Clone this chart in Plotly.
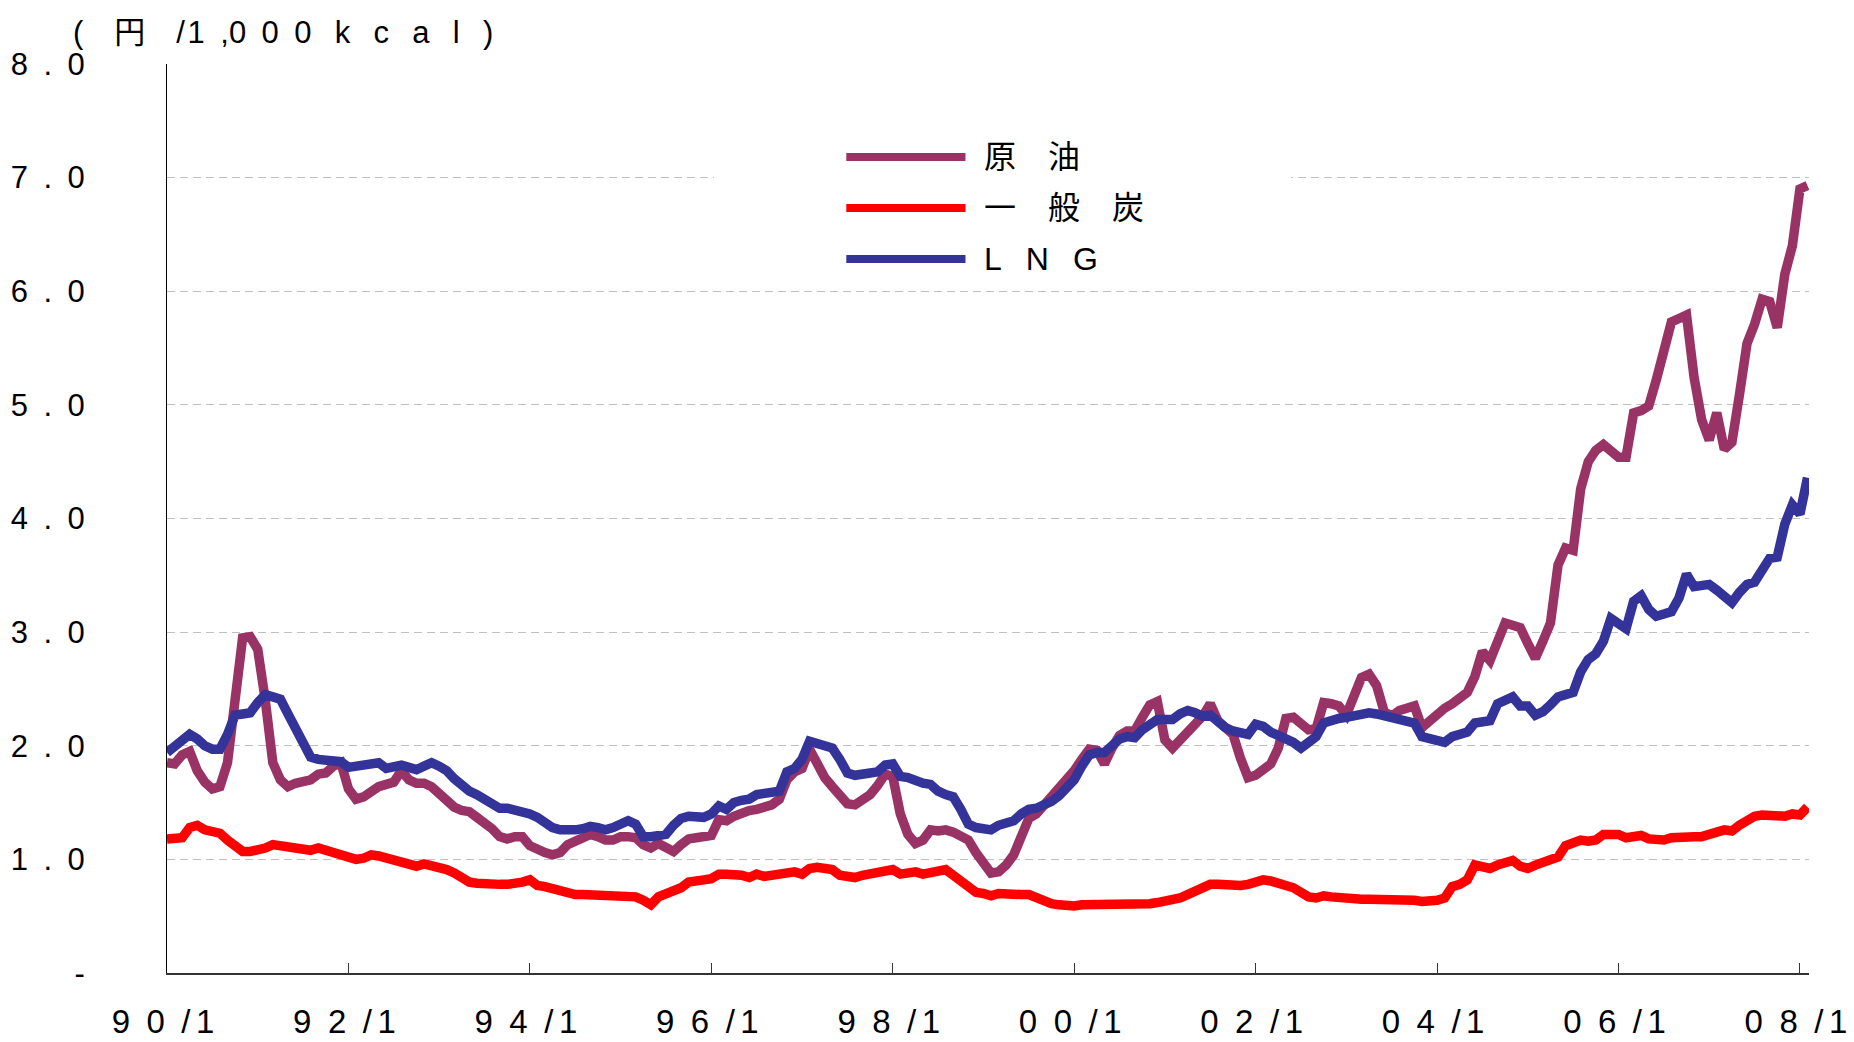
import plotly.graph_objects as go

# ---------------- data (monthly, 1990/1 .. 2008/2), yen per 1,000 kcal ----------------
crude = [
    1.85, 1.84, 1.92, 1.95, 1.78, 1.68, 1.62, 1.64, 1.85, 2.35, 2.95, 2.96,   # 1990
    2.85, 2.40, 1.85, 1.70, 1.64, 1.67, 1.69, 1.70, 1.75, 1.76, 1.82, 1.85,   # 1991
    1.62, 1.53, 1.55, 1.60, 1.64, 1.66, 1.68, 1.78, 1.70, 1.67, 1.67, 1.64,   # 1992
    1.58, 1.51, 1.46, 1.43, 1.42, 1.37, 1.33, 1.27, 1.20, 1.18, 1.20, 1.20,   # 1993
    1.12, 1.08, 1.06, 1.04, 1.06, 1.13, 1.16, 1.19, 1.22, 1.20, 1.17, 1.17,   # 1994
    1.20, 1.20, 1.19, 1.13, 1.10, 1.14, 1.10, 1.07, 1.13, 1.18, 1.19, 1.20,   # 1995
    1.21, 1.35, 1.34, 1.38, 1.41, 1.43, 1.44, 1.45, 1.48, 1.53, 1.70, 1.77,   # 1996
    1.80, 1.97, 1.82, 1.72, 1.64, 1.56, 1.49, 1.48, 1.52, 1.57, 1.65, 1.75,   # 1997
    1.73, 1.40, 1.22, 1.14, 1.17, 1.26, 1.25, 1.26, 1.24, 1.21, 1.17, 1.06,   # 1998
    0.95, 0.88, 0.89, 0.95, 1.04, 1.22, 1.36, 1.40, 1.47, 1.56, 1.63, 1.70,   # 1999
    1.78, 1.88, 1.97, 1.96, 1.84, 1.98, 2.09, 2.13, 2.13, 2.25, 2.36, 2.39,   # 2000
    2.05, 1.98, 2.05, 2.15, 2.21, 2.26, 2.37, 2.22, 2.16, 2.10, 1.89, 1.72,   # 2001
    1.74, 1.80, 1.84, 1.98, 2.24, 2.25, 2.20, 2.14, 2.15, 2.38, 2.37, 2.35,   # 2002
    2.27, 2.44, 2.60, 2.63, 2.53, 2.30, 2.26, 2.31, 2.33, 2.35, 2.16, 2.22,   # 2003
    2.28, 2.33, 2.37, 2.42, 2.47, 2.61, 2.83, 2.75, 2.90, 3.08, 3.06, 3.04,   # 2004
    2.90, 2.77, 2.92, 3.08, 3.59, 3.74, 3.72, 4.26, 4.50, 4.60, 4.65, 4.58,   # 2005
    4.54, 4.54, 4.93, 4.95, 4.99, 5.22, 5.50, 5.73, 5.76, 5.79, 5.24, 4.87,   # 2006
    4.69, 4.93, 4.61, 4.67, 5.09, 5.54, 5.71, 5.93, 5.91, 5.68, 6.15, 6.40,   # 2007
    6.90, 6.93,                                                               # 2008
]

coal = [
    1.18, 1.18, 1.19, 1.28, 1.30, 1.26, 1.24, 1.23, 1.17, 1.12, 1.07, 1.07,   # 1990
    1.08, 1.10, 1.13, 1.12, 1.10, 1.10, 1.08, 1.08, 1.10, 1.08, 1.04, 1.03,   # 1991
    1.01, 1.00, 1.01, 1.04, 1.03, 1.01, 0.99, 0.97, 0.95, 0.94, 0.96, 0.95,   # 1992
    0.93, 0.91, 0.88, 0.84, 0.80, 0.79, 0.78, 0.78, 0.78, 0.78, 0.78, 0.80,   # 1993
    0.82, 0.77, 0.76, 0.74, 0.73, 0.72, 0.69, 0.69, 0.69, 0.69, 0.69, 0.69,   # 1994
    0.69, 0.69, 0.67, 0.64, 0.60, 0.67, 0.69, 0.72, 0.75, 0.80, 0.82, 0.82,   # 1995
    0.83, 0.87, 0.87, 0.87, 0.86, 0.84, 0.87, 0.85, 0.86, 0.87, 0.88, 0.89,   # 1996
    0.87, 0.92, 0.93, 0.93, 0.91, 0.86, 0.84, 0.84, 0.86, 0.87, 0.87, 0.89,   # 1997
    0.91, 0.87, 0.88, 0.89, 0.87, 0.89, 0.90, 0.91, 0.86, 0.81, 0.75, 0.71,   # 1998
    0.70, 0.68, 0.70, 0.69, 0.69, 0.69, 0.69, 0.66, 0.63, 0.61, 0.60, 0.59,   # 1999
    0.59, 0.60, 0.60, 0.60, 0.60, 0.60, 0.59, 0.60, 0.59, 0.60, 0.61, 0.62,   # 2000
    0.63, 0.65, 0.66, 0.69, 0.72, 0.74, 0.78, 0.78, 0.77, 0.76, 0.77, 0.78,   # 2001
    0.80, 0.82, 0.81, 0.80, 0.77, 0.75, 0.70, 0.67, 0.66, 0.68, 0.67, 0.66,   # 2002
    0.66, 0.66, 0.65, 0.65, 0.65, 0.65, 0.64, 0.66, 0.65, 0.64, 0.63, 0.63,   # 2003
    0.64, 0.66, 0.76, 0.78, 0.82, 0.95, 0.93, 0.92, 0.95, 0.97, 0.99, 0.94,   # 2004
    0.92, 0.95, 0.97, 0.98, 1.02, 1.12, 1.15, 1.17, 1.16, 1.17, 1.22, 1.23,   # 2005
    1.22, 1.19, 1.21, 1.21, 1.18, 1.17, 1.17, 1.19, 1.20, 1.20, 1.20, 1.20,   # 2006
    1.21, 1.24, 1.26, 1.25, 1.30, 1.34, 1.38, 1.39, 1.38, 1.37, 1.38, 1.40,   # 2007
    1.39, 1.46,                                                               # 2008
]

lng = [
    1.94, 1.99, 2.04, 2.10, 2.06, 2.00, 1.97, 1.97, 2.10, 2.27, 2.28, 2.29,   # 1990
    2.38, 2.45, 2.43, 2.41, 2.28, 2.16, 2.03, 1.90, 1.88, 1.88, 1.87, 1.86,   # 1991
    1.81, 1.82, 1.84, 1.86, 1.85, 1.80, 1.82, 1.83, 1.81, 1.79, 1.82, 1.85,   # 1992
    1.82, 1.78, 1.71, 1.65, 1.60, 1.57, 1.53, 1.50, 1.45, 1.45, 1.44, 1.42,   # 1993
    1.40, 1.37, 1.32, 1.28, 1.26, 1.25, 1.26, 1.27, 1.29, 1.28, 1.26, 1.28,   # 1994
    1.31, 1.34, 1.31, 1.20, 1.20, 1.20, 1.22, 1.30, 1.36, 1.38, 1.38, 1.37,   # 1995
    1.40, 1.47, 1.44, 1.50, 1.52, 1.53, 1.57, 1.58, 1.57, 1.60, 1.77, 1.80,   # 1996
    1.88, 2.04, 2.02, 2.00, 1.98, 1.88, 1.76, 1.74, 1.74, 1.76, 1.77, 1.83,   # 1997
    1.84, 1.73, 1.72, 1.69, 1.67, 1.66, 1.60, 1.57, 1.55, 1.44, 1.31, 1.28,   # 1998
    1.27, 1.26, 1.30, 1.31, 1.34, 1.40, 1.44, 1.45, 1.47, 1.51, 1.56, 1.62,   # 1999
    1.70, 1.82, 1.92, 1.94, 1.94, 2.00, 2.06, 2.08, 2.07, 2.14, 2.19, 2.23,   # 2000
    2.23, 2.23, 2.28, 2.31, 2.29, 2.26, 2.27, 2.20, 2.16, 2.13, 2.12, 2.10,   # 2001
    2.19, 2.17, 2.12, 2.08, 2.06, 2.03, 1.98, 2.03, 2.08, 2.20, 2.23, 2.24,   # 2002
    2.25, 2.27, 2.28, 2.29, 2.28, 2.26, 2.25, 2.24, 2.22, 2.20, 2.08, 2.06,   # 2003
    2.05, 2.03, 2.08, 2.11, 2.12, 2.20, 2.22, 2.22, 2.37, 2.40, 2.43, 2.35,   # 2004
    2.35, 2.27, 2.30, 2.36, 2.43, 2.45, 2.47, 2.65, 2.76, 2.81, 2.92, 3.12,   # 2005
    3.08, 3.03, 3.27, 3.32, 3.20, 3.14, 3.16, 3.18, 3.30, 3.51, 3.40, 3.41,   # 2006
    3.42, 3.37, 3.30, 3.26, 3.35, 3.42, 3.44, 3.55, 3.65, 3.66, 3.95, 4.12,   # 2007
    4.04, 4.36,                                                               # 2008
]

series_names = ["原\u3000油", "一\u3000般\u3000炭", "L\u2002\u2005N\u2002\u2005G"]
series_colors = ["#993366", "#FF0000", "#333399"]

x_tick_years = ["90", "92", "94", "96", "98", "00", "02", "04", "06", "08"]
y_tick_values = [0, 1, 2, 3, 4, 5, 6, 7, 8]
y_tick_labels = ["-", "1\u2002.\u20020", "2\u2002.\u20020", "3\u2002.\u20020", "4\u2002.\u20020",
                 "5\u2002.\u20020", "6\u2002.\u20020", "7\u2002.\u20020", "8\u2002.\u20020"]
unit_label = "(\u2003円\u2003/\u200a1\u2002,0\u20020\u20020\u2002\u2005k\u2002\u2005c\u2002\u2005a\u2002\u2005l\u2002\u2005)"

# ---------------- figure ----------------
months = list(range(len(crude)))
x_tick_vals = [i * 24 for i in range(len(x_tick_years))]
x_tick_text = [f"{y[0]}\u2002{y[1]}\u2002/\u20061" for y in x_tick_years]

FONT = "Liberation Sans, Arial, Noto Sans CJK JP, sans-serif"
LW = 9.5

fig = go.Figure()
for name, vals, col in zip(series_names, [crude, coal, lng], series_colors):
    fig.add_trace(go.Scatter(x=months, y=vals, mode="lines", name=name,
                             line=dict(color=col, width=LW), showlegend=False))

fig.update_layout(
    width=1854, height=1042,
    margin=dict(l=167, r=45, t=64, b=69, autoexpand=False),
    paper_bgcolor="white", plot_bgcolor="white",
    font=dict(family=FONT, color="black"),
    showlegend=False,
)
fig.update_xaxes(
    range=[0, 217.2], automargin=False,
    tickmode="array", tickvals=x_tick_vals, ticktext=x_tick_text,
    ticks="inside", ticklen=10, tickwidth=1, tickcolor="#333333",
    showline=True, linecolor="#333333", linewidth=1.5,
    showgrid=False, zeroline=False,
    tickfont=dict(size=33, family=FONT, color="black"),
    ticklabelstandoff=19, ticklabelshift=-4, ticklabeloverflow="allow",
)
fig.update_yaxes(
    range=[0, 8], automargin=False,
    tickmode="array", tickvals=y_tick_values, ticktext=y_tick_labels,
    ticks="", showline=True, linecolor="black", linewidth=1,
    showgrid=True, gridcolor="#c0c0c0", gridwidth=1, griddash="8px,5px",
    zeroline=False,
    tickfont=dict(size=31, family=FONT, color="black"),
    ticklabelstandoff=75, ticklabeloverflow="allow",
)

# unit label
fig.add_annotation(text=unit_label, xref="paper", yref="paper",
                   x=-0.0586, y=1.035, xanchor="left", yanchor="middle",
                   showarrow=False, font=dict(size=31, family=FONT, color="black"))

# legend: white box hiding gridline, sample lines and labels
fig.add_shape(type="rect", xref="paper", yref="paper",
              x0=0.3331, x1=0.6846, y0=0.757, y1=0.971,
              fillcolor="white", line=dict(width=0), layer="above")
legend_y = [0.8977, 0.8416, 0.7855]
for name, col, yy in zip(series_names, series_colors, legend_y):
    fig.add_shape(type="line", xref="paper", yref="paper",
                  x0=0.4137, x1=0.4863, y0=yy, y1=yy,
                  line=dict(color=col, width=8), layer="above")
    fig.add_annotation(text=name, xref="paper", yref="paper",
                       x=0.4966, y=yy, xanchor="left", yanchor="middle",
                       showarrow=False,
                       font=dict(size=32, family=FONT, color="black"))

fig.write_html("out.html")
